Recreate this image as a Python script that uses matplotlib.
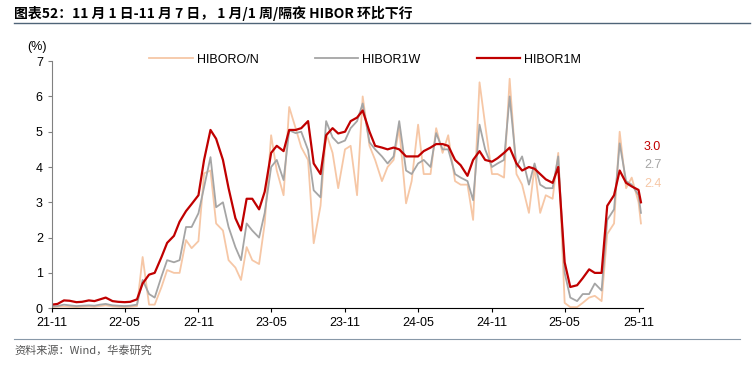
import pandas as pd
import matplotlib
matplotlib.use("Agg")
import matplotlib.pyplot as plt
import matplotlib.dates as mdates
from matplotlib.lines import Line2D

plt.rcParams['font.family'] = ['Liberation Sans', 'Noto Sans CJK SC', 'DejaVu Sans']

# semi-monthly observations, Nov 2021 .. Nov 2025, plus last print 2025-11-07
dates = list(pd.date_range('2021-11-01', '2025-11-01', freq='SMS')) + [pd.Timestamp('2025-11-07')]

hibor_1m = [0.10, 0.12, 0.22, 0.21, 0.17, 0.18, 0.22, 0.20, 0.25, 0.30, 0.20, 0.18, 0.17, 0.18, 0.25, 0.70,
            0.95, 1.00, 1.45, 1.85, 2.05, 2.45, 2.75, 2.95, 3.20, 4.20, 5.05, 4.80, 4.20, 3.40, 2.55, 2.20,
            3.10, 3.10, 2.80, 3.30, 4.40, 4.60, 4.45, 5.05, 5.05, 5.10, 5.30, 4.10, 3.80, 4.90, 5.10, 4.95,
            5.00, 5.30, 5.40, 5.60, 5.00, 4.60, 4.55, 4.50, 4.55, 4.50, 4.30, 4.30, 4.30, 4.45, 4.55, 4.65,
            4.65, 4.60, 4.20, 4.05, 3.75, 4.20, 4.45, 4.20, 4.15, 4.25, 4.40, 4.55, 4.10, 3.90, 4.00, 3.95,
            3.80, 3.65, 3.55, 4.00, 1.30, 0.60, 0.65, 0.85, 1.10, 1.00, 1.00, 2.90, 3.20, 3.90, 3.55, 3.45,
            3.35, 3.00]

hibor_1w = [0.05, 0.06, 0.10, 0.08, 0.06, 0.07, 0.08, 0.07, 0.10, 0.12, 0.08, 0.07, 0.06, 0.07, 0.10, 0.80,
            0.40, 0.30, 0.90, 1.36, 1.30, 1.36, 2.30, 2.30, 2.69, 3.43, 4.28, 2.86, 3.00, 2.30, 1.73, 1.36,
            2.40, 2.20, 2.00, 2.70, 4.00, 4.20, 3.63, 5.04, 4.96, 5.00, 4.48, 3.34, 3.14, 5.30, 4.84, 4.67,
            4.75, 5.10, 5.30, 5.80, 4.70, 4.50, 4.30, 4.10, 4.30, 5.30, 3.90, 3.80, 4.10, 4.20, 4.00, 4.96,
            4.50, 4.50, 3.80, 3.70, 3.60, 3.06, 5.20, 4.50, 4.00, 4.10, 4.20, 6.00, 4.00, 4.30, 3.50, 4.10,
            3.50, 3.40, 3.40, 4.30, 1.00, 0.30, 0.20, 0.40, 0.40, 0.70, 0.50, 2.50, 2.80, 4.67, 3.60, 3.50,
            3.20, 2.70]

hibor_on = [0.03, 0.04, 0.05, 0.04, 0.03, 0.04, 0.05, 0.04, 0.06, 0.08, 0.05, 0.04, 0.03, 0.04, 0.06, 1.45,
            0.10, 0.10, 0.60, 1.08, 1.00, 1.00, 1.93, 1.70, 1.90, 3.82, 3.90, 2.40, 2.20, 1.36, 1.15, 0.80,
            1.73, 1.36, 1.25, 2.40, 4.90, 3.90, 3.20, 5.70, 5.10, 4.56, 4.20, 1.84, 2.90, 4.96, 4.40, 3.40,
            4.50, 4.60, 3.20, 6.00, 4.60, 4.20, 3.60, 4.00, 4.20, 5.10, 2.97, 3.60, 5.20, 3.80, 3.80, 5.10,
            4.40, 4.90, 3.60, 3.50, 3.50, 2.50, 6.40, 5.20, 3.80, 3.80, 3.70, 6.50, 3.80, 3.50, 2.70, 4.00,
            2.70, 3.20, 3.10, 4.40, 0.15, 0.03, 0.03, 0.15, 0.30, 0.35, 0.20, 2.10, 2.40, 5.00, 3.40, 3.70,
            3.00, 2.40]

c_on = '#F6C7A6'
c_1w = '#A5A5A5'
c_1m = '#C00000'

fig = plt.figure(figsize=(7.52, 3.66), dpi=100)
ax = fig.add_axes([0.069, 0.158, 0.786, 0.675])

ax.plot(dates, hibor_on, color=c_on, lw=1.3, label='HIBORO/N')
ax.plot(dates, hibor_1w, color=c_1w, lw=1.3, label='HIBOR1W')
ax.plot(dates, hibor_1m, color=c_1m, lw=1.6, label='HIBOR1M')

ax.set_ylim(0, 7)
ax.set_yticks(range(0, 8))
ax.set_xlim(pd.Timestamp('2021-11-01'), pd.Timestamp('2025-11-12'))
ax.xaxis.set_major_locator(mdates.MonthLocator(bymonth=[5, 11]))
ax.xaxis.set_major_formatter(mdates.DateFormatter('%y-%m'))
ax.tick_params(labelsize=9, length=3, direction='out')
ax.spines['top'].set_visible(False)
ax.spines['right'].set_visible(False)
ax.spines['left'].set_color('#808080')
ax.tick_params(axis='y', colors='#808080', labelcolor='black')
ax.spines['bottom'].set_color('black')

ax.text(-0.025, 1.045, '(%)', transform=ax.transAxes, fontsize=9, ha='center')

ax.legend(loc='upper center', bbox_to_anchor=(0.53, 1.075), ncol=3, frameon=False,
          fontsize=9, handlelength=3.5, columnspacing=4.5, handletextpad=0.3)

# last values
fig.text(644 / 752, 1 - 147 / 366, '3.0', color=c_1m, fontsize=9, va='center')
fig.text(644 / 752, 1 - 165 / 366, '2.7', color=c_1w, fontsize=9, va='center')
fig.text(644 / 752, 1 - 184 / 366, '2.4', color=c_on, fontsize=9, va='center')

# title and source
fig.text(14 / 752, 1 - 13 / 366, '图表52：11 月 1 日-11 月 7 日， 1 月/1 周/隔夜 HIBOR 环比下行',
         fontsize=10, fontweight='bold', va='center',
         family=['Noto Sans CJK SC', 'DejaVu Sans'])
fig.add_artist(Line2D([14 / 752, 750 / 752], [1 - 23 / 366, 1 - 23 / 366], color='#4f6478', lw=1))
fig.add_artist(Line2D([14 / 752, 740 / 752], [1 - 339 / 366, 1 - 339 / 366], color='#8898a8', lw=0.8))
fig.text(14 / 752, 1 - 350 / 366, '资料来源：Wind，华泰研究', fontsize=8, color='#555555', va='center',
         family=['Noto Sans CJK SC', 'DejaVu Sans'])

fig.savefig('out.png', dpi=100)
